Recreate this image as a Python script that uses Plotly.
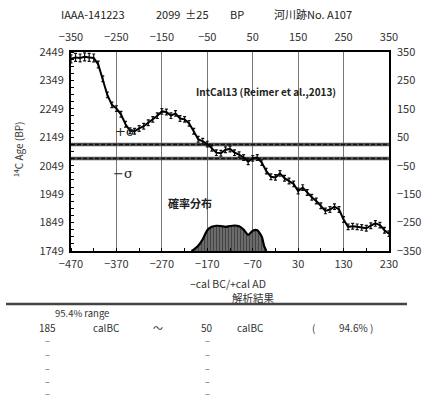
import plotly.graph_objects as go

# ---- data ----
cal_years = [-470, -460, -450, -440, -430, -420, -410, -400, -390, -380, -370, -360, -350, -340, -330,
             -320, -310, -300, -290, -280, -270, -260, -250, -240, -230, -220, -210, -200, -190, -180,
             -170, -160, -150, -140, -130, -120, -110, -100, -90, -80, -70, -60, -50, -40, -30, -20,
             -10, 0, 10, 20, 30, 40, 50, 60, 70, 80, 90, 100, 110, 120, 130, 140, 150, 160, 170,
             180, 190, 200, 210, 220, 230]
curve_bp = [2425, 2430, 2428, 2432, 2430, 2428, 2405, 2355, 2298, 2263, 2250, 2230, 2195, 2172, 2170,
            2180, 2188, 2200, 2212, 2225, 2240, 2238, 2225, 2233, 2215, 2212, 2198, 2170, 2142, 2135,
            2125, 2110, 2095, 2093, 2105, 2108, 2095, 2088, 2078, 2063, 2075, 2078, 2060, 2030, 2010, 2008,
            2022, 2005, 1995, 1985, 1960, 1972, 1955, 1938, 1925, 1908, 1890, 1895, 1905, 1895,
            1860, 1834, 1836, 1834, 1832, 1829, 1838, 1846, 1840, 1822, 1810]
curve_err = [14, 14, 14, 14, 14, 14, 12, 10, 10, 10, 10, 10, 10, 10, 10,
             10, 10, 10, 10, 10, 10, 10, 10, 10, 10, 10, 10, 10, 10, 10,
             10, 10, 10, 10, 10, 10, 10, 10, 10, 10, 10, 10, 10, 10, 10, 10,
             10, 10, 10, 10, 10, 10, 10, 10, 10, 10, 10, 10, 10, 10,
             10, 10, 10, 10, 10, 10, 10, 10, 10, 10, 10]

prob_years = [-205, -200, -190, -180, -170, -160, -150, -140, -130, -120, -110, -100, -90, -80,
              -70, -60, -50, -45, -40]
prob_density = [0, 0.05, 0.2, 0.45, 0.8, 0.93, 0.97, 0.96, 0.93, 0.96, 0.98, 0.95, 0.82, 0.62,
                0.78, 0.8, 0.55, 0.2, 0]

c14_age = 2099
c14_err = 25

bottom_ticks = [-470, -370, -270, -170, -70, 30, 130, 230]
left_ticks = [1749, 1849, 1949, 2049, 2149, 2249, 2349, 2449]
right_ticks = [-350, -250, -150, -50, 50, 150, 250, 350]
top_ticks = [-350, -250, -150, -50, 50, 150, 250, 350]

header = ["IAAA-141223", "2099  ±25", "BP", "河川跡No. A107"]
range_row = ["185", "calBC", "〜", "50", "calBC", "(", "94.6% )"]

FONT = "Noto Sans CJK JP, Liberation Sans, sans-serif"

fig = go.Figure()

# sigma lines
for v in (c14_age + c14_err, c14_age - c14_err):
    fig.add_trace(go.Scatter(x=[bottom_ticks[0], bottom_ticks[-1]], y=[v, v], mode="lines",
                             line=dict(color="#555", width=3.5), hoverinfo="skip", showlegend=False))
    fig.add_trace(go.Scatter(x=[bottom_ticks[0], bottom_ticks[-1]], y=[v, v], mode="lines",
                             line=dict(color="#111", width=1.5, dash="4px,2px"), hoverinfo="skip",
                             showlegend=False))

# probability distribution
fig.add_trace(go.Scatter(x=prob_years, y=prob_density, mode="lines", yaxis="y3",
                         line=dict(color="black", width=2.2, shape="spline", smoothing=0.6),
                         fill="tozeroy", fillcolor="#444",
                         fillpattern=dict(shape="|", fgcolor="#111", bgcolor="#777", size=3, solidity=0.5),
                         hoverinfo="skip", showlegend=False))

# calibration curve
fig.add_trace(go.Scatter(x=cal_years, y=curve_bp, mode="lines",
                         line=dict(color="black", width=2),
                         error_y=dict(type="data", array=curve_err, color="#111", thickness=1.2, width=1.5),
                         hoverinfo="skip", showlegend=False))

# dummy trace to activate secondary axes
fig.add_trace(go.Scatter(x=[top_ticks[0]], y=[right_ticks[0]], xaxis="x2", yaxis="y2", mode="markers",
                         marker=dict(opacity=0), hoverinfo="skip", showlegend=False))

tickfont = dict(family=FONT, size=11, color="#333")
xdom = [71 / 426, 389 / 426]
ydom = [149 / 400, 348 / 400]

fig.update_layout(
    width=426, height=400, margin=dict(l=0, r=0, t=0, b=0, autoexpand=False),
    paper_bgcolor="white", plot_bgcolor="white",
    xaxis=dict(domain=xdom, range=[bottom_ticks[0], bottom_ticks[-1]], tickvals=bottom_ticks,
               showgrid=True, gridcolor="#777", gridwidth=1, zeroline=False, automargin=False,
               showline=True, linecolor="black", linewidth=2, mirror=True,
               ticks="", tickfont=tickfont, anchor="y", ticklabelstandoff=2,
               minor=dict(ticks="inside", ticklen=3, tickcolor="black", dtick=50, tick0=-470, showgrid=False)),
    yaxis=dict(domain=ydom, range=[left_ticks[0], left_ticks[-1]], tickvals=left_ticks, automargin=False,
               showgrid=False, zeroline=False, showline=True, linecolor="black", linewidth=2, mirror=True,
               ticks="", tickfont=tickfont, anchor="x", ticklabelstandoff=3,
               minor=dict(ticks="inside", ticklen=3, tickcolor="black", dtick=25, tick0=1749, showgrid=False)),
    xaxis2=dict(domain=xdom, range=[top_ticks[0], top_ticks[-1]], tickvals=top_ticks, overlaying="x",
                side="top", anchor="y", showgrid=False, zeroline=False, showline=False, ticks="",
                tickfont=tickfont, automargin=False, ticklabelstandoff=8),
    yaxis2=dict(domain=ydom, range=[right_ticks[0], right_ticks[-1]], tickvals=right_ticks, overlaying="y",
                side="right", anchor="x", showgrid=False, zeroline=False, showline=False, ticks="",
                tickfont=tickfont, automargin=False, ticklabelstandoff=7),
    yaxis3=dict(domain=ydom, range=[0, 7.65], overlaying="y", visible=False, anchor="x", automargin=False),
)


def pa(text, px, py, size=10.5, family=FONT, color="#333", angle=0):
    return dict(x=px / 426, y=1 - py / 400, xref="paper", yref="paper", text=text, showarrow=False,
                xanchor="center", yanchor="middle", textangle=angle,
                font=dict(family=family, size=size, color=color))


ann = []
hx = [93, 182, 237, 313]
for t, xx in zip(header, hx):
    ann.append(pa(t, xx, 14, size=11, color="#222"))
ann.append(pa("<sup>14</sup>C Age (BP)", 18, 150, size=10, angle=-90))
ann.append(pa("−cal BC/+cal AD", 228, 283))
ann.append(pa("解析結果", 253, 297))
ann.append(dict(x=-352, y=2170, xref="x", yref="y", text="+σ", showarrow=False, xanchor="center",
                yanchor="middle", font=dict(family="DejaVu Serif", size=13, color="#222")))
ann.append(dict(x=-355, y=2023, xref="x", yref="y", text="−σ", showarrow=False, xanchor="center",
                yanchor="middle", font=dict(family="DejaVu Serif", size=13, color="#222")))
ann.append(pa("<b>IntCal13 (Reimer et al.,2013)</b>", 266, 91, size=10, color="#222"))
ann.append(pa("<b>確率分布</b>", 190, 203, size=11, color="#222"))
ann.append(pa("95.4% range", 82, 313, size=9.5))
rx = [47, 106, 158, 207, 250, 313, 356]
for t, xx in zip(range_row, rx):
    ann.append(pa(t, xx, 327, size=10))
for yy in [340, 354, 368, 381, 393]:
    for xx in [47, 207]:
        ann.append(pa("–", xx, yy, size=9, color="#555"))
fig.update_layout(annotations=ann)

fig.add_shape(type="line", xref="paper", yref="paper", x0=6 / 426, x1=407 / 426, y0=1 - 304 / 400,
              y1=1 - 304 / 400, line=dict(color="#444", width=2.5))

fig.write_html("out.html", config={"displayModeBar": False},
               post_script="document.body.style.margin='0';document.body.style.padding='0';")
